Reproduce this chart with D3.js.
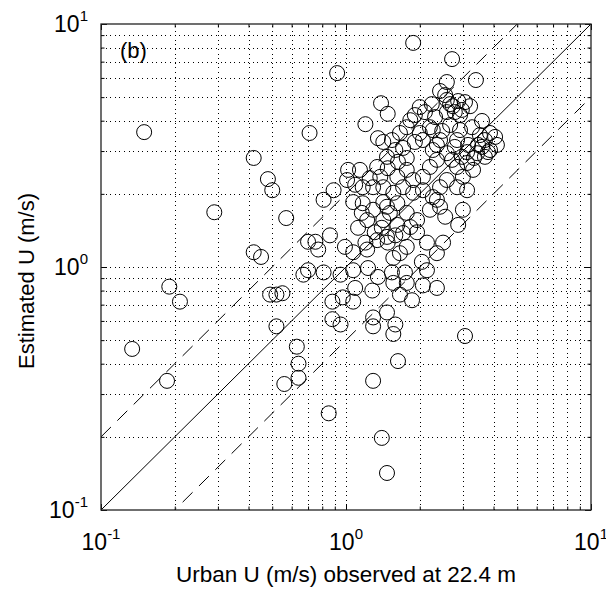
<!DOCTYPE html>
<html>
<head>
<meta charset="utf-8">
<script src="https://cdn.jsdelivr.net/npm/d3@7/dist/d3.min.js"></script>
<style>
  body { margin: 0; background: #fff; }
  svg { display: block; }
  text { font-family: "Liberation Sans", Arial, Helvetica, sans-serif; fill: #000; }
</style>
</head>
<body>
<svg id="chart" width="606" height="589"></svg>
<script>
// Observed urban wind speed at 22.4 m (m/s)
const observedU = [
  0.15,0.29,0.19,0.21,0.134,0.186,0.42,0.48,0.50,0.57,0.42,0.45,0.49,0.52,0.55,0.67,0.70,0.52,0.63,0.64,
  0.64,0.56,0.71,0.70,0.85,1.29,1.40,1.47,3.06,0.92,1.88,2.71,3.39,2.58,1.39,1.48,1.20,1.63,
  2.42,2.58,2.73,2.87,3.06,3.21,2.0,2.10,2.24,2.58,2.78,2.97,1.91,2.31,3.59,3.27,2.92,2.66,2.26,2.0,
  1.77,1.66,1.83,3.87,4.06,3.69,2.84,2.42,2.06,2.20,2.47,
  1.35,1.42,1.54,1.59,1.71,1.47,1.63,1.77,1.48,1.34,1.38,1.25,1.14,1.02,1.01,1.09,1.17,1.29,1.42,1.62,
  1.77,1.88,2.06,2.20,2.35,2.26,2.58,2.78,3.12,2.97,2.71,2.84,3.12,3.43,3.59,4.13,3.87,3.69,3.30,3.0,
  2.84,3.12,2.58,2.42,2.26,2.06,1.88,1.71,1.56,1.42,1.29,1.16,1.17,1.07,2.20,2.42,2.54,3.0,0.89,1.91,2.35,
  0.81,1.22,1.12,0.86,0.75,0.77,0.99,1.07,1.22,1.20,1.34,1.47,1.42,1.51,1.62,1.71,1.83,1.95,1.77,1.66,
  1.56,1.47,1.62,1.77,1.95,2.35,2.14,2.35,2.04,2.14,2.49,2.87,0.81,0.95,1.07,1.23,1.35,1.54,1.74,1.56,
  1.77,2.06,2.35,1.09,1.28,0.97,1.07,0.88,1.66,1.86,1.47,1.29,1.29,0.88,0.95,1.59,1.56,
  2.66,2.92,3.46,3.80,3.33,1.40,1.48,1.59,1.31,3.15,3.52,2.54
];

// Estimated wind speed (m/s), same order as observedU
const estimatedU = [
  3.59,1.68,0.83,0.72,0.46,0.34,2.81,2.30,2.07,1.59,1.15,1.10,0.77,0.77,0.78,0.93,0.97,0.57,0.47,0.40,
  0.35,0.33,3.56,1.27,0.25,0.34,0.198,0.142,0.52,6.28,8.36,7.17,5.88,5.77,4.72,4.27,3.87,0.41,
  5.30,4.87,4.59,4.82,4.77,4.59,4.55,4.34,4.68,4.34,4.34,4.43,4.22,4.14,3.99,3.76,3.66,3.84,3.66,3.56,
  3.76,3.56,4.02,3.56,3.43,3.33,3.33,3.33,3.33,3.76,3.63,
  3.39,3.27,3.33,3.03,3.09,2.84,2.71,2.81,2.55,2.58,2.35,2.32,2.51,2.51,2.28,2.18,2.13,2.13,2.13,2.35,
  2.51,2.28,2.35,2.58,2.76,3.03,2.94,3.12,2.97,2.84,2.76,2.58,2.68,2.94,3.12,3.18,3.03,2.84,2.51,2.35,
  2.13,2.07,2.28,2.13,1.94,2.07,2.02,2.13,2.02,1.85,1.72,1.67,1.83,1.85,1.72,1.77,1.61,1.72,2.07,3.27,3.18,
  1.89,1.56,1.45,1.35,1.27,1.18,1.21,1.15,1.18,1.26,1.29,1.33,1.56,1.67,1.49,1.38,1.46,1.39,1.21,1.14,
  1.09,1.77,1.83,1.67,1.56,1.89,1.26,1.14,1.05,0.97,1.26,1.49,0.95,0.93,0.97,0.99,0.91,0.95,0.95,0.86,
  0.86,0.84,0.82,0.82,0.80,0.75,0.72,0.72,0.77,0.73,0.65,0.62,0.57,0.61,0.58,0.58,0.53,
  4.68,4.22,3.18,2.97,2.81,1.45,1.26,1.35,1.39,3.18,3.49,5.10
];

// Axis range and tick positions (log scale, decades 10^-1 .. 10^1)
const axisDomain = [0.1, 10];
const decadeTicks = [0.1, 1, 10];
const decadeExponents = ["-1", "0", "1"];
const minorMultipliers = [2, 3, 4, 5, 6, 7, 8, 9];

// Reference lines: 1:1 and factor-of-two bounds
const refLines = [
  { factor: 1,   dashed: false },
  { factor: 2,   dashed: true  },
  { factor: 0.5, dashed: true  }
];

const panelLabel = "(b)";
const xTitle = "Urban U (m/s) observed at 22.4 m";
const yTitle = "Estimated U (m/s)";

const svg = d3.select("#chart");
const margin = { left: 101, top: 24, right: 15, bottom: 79 };
const W = 606 - margin.left - margin.right;   // 490
const H = 589 - margin.top - margin.bottom;   // 486

const x = d3.scaleLog().domain(axisDomain).range([0, W]);
const y = d3.scaleLog().domain(axisDomain).range([H, 0]);

const g = svg.append("g").attr("transform", `translate(${margin.left},${margin.top})`);

// all grid positions: minor + decades inside the domain
const gridValues = [];
decadeTicks.forEach(d => {
  gridValues.push(d);
  if (d < axisDomain[1]) minorMultipliers.forEach(m => gridValues.push(d * m));
});
const innerGrid = gridValues.filter(v => v > axisDomain[0] && v < axisDomain[1]);

// dotted grid
const gridStyle = sel => {
  sel.select(".domain").remove();
  sel.selectAll(".tick line")
    .attr("stroke", "#000")
    .attr("stroke-width", 1)
    .attr("stroke-dasharray", "1,3.6")
    .attr("shape-rendering", "crispEdges");
  sel.selectAll(".tick text").remove();
};
g.append("g")
  .attr("transform", `translate(0,${H})`)
  .call(d3.axisBottom(x).tickValues(innerGrid).tickSize(-H).tickFormat(""))
  .call(gridStyle);
g.append("g")
  .call(d3.axisLeft(y).tickValues(innerGrid).tickSize(-W).tickFormat(""))
  .call(gridStyle);

// inward tick marks on all four sides
const tickLen = v => decadeTicks.includes(v) ? 6 : 3.5;
const tickSides = [
  { axis: d3.axisBottom(x), tf: `translate(0,${H})`, set: (l, n) => l.attr("y2", -n) },
  { axis: d3.axisTop(x),    tf: `translate(0,0)`,    set: (l, n) => l.attr("y2", n) },
  { axis: d3.axisLeft(y),   tf: `translate(0,0)`,    set: (l, n) => l.attr("x2", n) },
  { axis: d3.axisRight(y),  tf: `translate(${W},0)`, set: (l, n) => l.attr("x2", -n) }
];
tickSides.forEach(s => {
  const ax = g.append("g").attr("transform", s.tf)
    .call(s.axis.tickValues(gridValues).tickSizeInner(0).tickSizeOuter(0).tickFormat(""));
  ax.select(".domain").remove();
  ax.selectAll(".tick line").each(function(v) {
    s.set(d3.select(this), tickLen(v));
  }).attr("stroke", "#000").attr("stroke-width", 1);
});

// clip reference lines and markers to the plot box
svg.append("defs").append("clipPath").attr("id", "plotClip")
  .append("rect").attr("width", W).attr("height", H);

const plot = g.append("g").attr("clip-path", "url(#plotClip)");

refLines.forEach(r => {
  const pts = [axisDomain[0], axisDomain[1]].map(v => [v, v * r.factor]);
  plot.append("path")
    .attr("d", d3.line().x(d => x(d[0])).y(d => y(d[1]))(pts))
    .attr("fill", "none")
    .attr("stroke", "#000")
    .attr("stroke-width", 1)
    .attr("stroke-dasharray", r.dashed ? "14,9" : null);
});

// open circle markers
const n = Math.min(observedU.length, estimatedU.length);
const points = d3.range(n).map(i => ({ o: observedU[i], e: estimatedU[i] }));
plot.selectAll("circle.pt").data(points).join("circle")
  .attr("class", "pt")
  .attr("cx", d => x(d.o))
  .attr("cy", d => y(d.e))
  .attr("r", 7.5)
  .attr("fill", "none")
  .attr("stroke", "#000")
  .attr("stroke-width", 1);

// axes box
g.append("rect")
  .attr("width", W).attr("height", H)
  .attr("fill", "none").attr("stroke", "#222").attr("stroke-width", 1.3);

// tick labels: 10 with superscript exponent
const baseSize = 23, supSize = 15;
decadeTicks.forEach((v, i) => {
  const t = g.append("text")
    .attr("x", x(v)).attr("y", H + 40)
    .attr("text-anchor", "middle")
    .style("font-size", baseSize + "px");
  t.append("tspan").text("10");
  t.append("tspan").attr("dy", -11).style("font-size", supSize + "px").text(decadeExponents[i]);

  const ty = g.append("text")
    .attr("x", -13).attr("y", y(v) + 8)
    .attr("text-anchor", "end")
    .style("font-size", baseSize + "px");
  ty.append("tspan").text("10");
  ty.append("tspan").attr("dy", -11).style("font-size", supSize + "px").text(decadeExponents[i]);
});

// axis titles
svg.append("text")
  .attr("x", margin.left + W / 2).attr("y", 582)
  .attr("text-anchor", "middle")
  .style("font-size", "22.5px")
  .text(xTitle);

svg.append("text")
  .attr("transform", `translate(34,${margin.top + H / 2 + 14}) rotate(-90)`)
  .attr("text-anchor", "middle")
  .style("font-size", "22px")
  .text(yTitle);

// panel label
g.append("text")
  .attr("x", 19).attr("y", 34)
  .style("font-size", "22px")
  .text(panelLabel);
</script>
</body>
</html>
